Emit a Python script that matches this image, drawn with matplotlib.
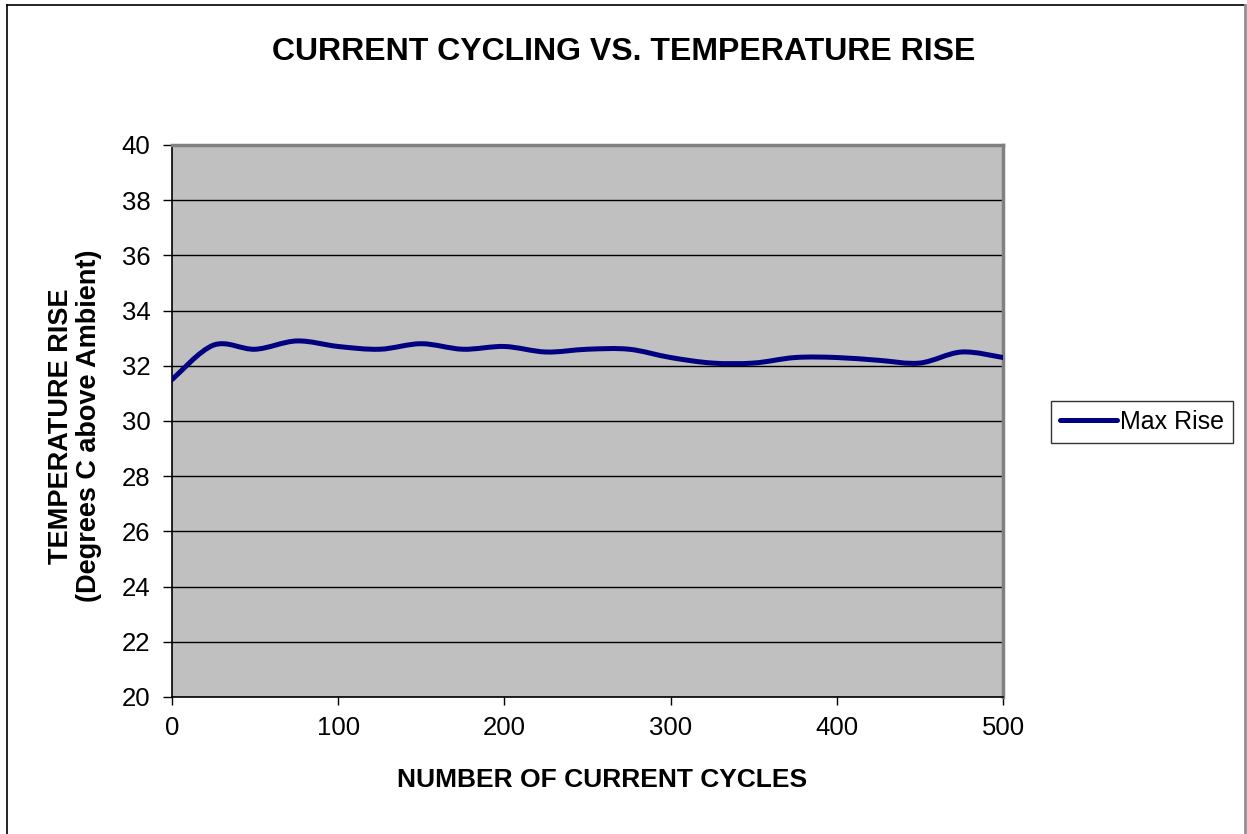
import numpy as np
import matplotlib.pyplot as plt
from matplotlib.path import Path
from matplotlib.patches import PathPatch
from matplotlib.lines import Line2D

# Dữ liệu
cycles = [0, 25, 50, 75, 100, 125, 150, 175, 200, 225, 250,
          275, 300, 325, 350, 375, 400, 425, 450, 475, 500]
max_rise = [31.5, 32.75, 32.6, 32.9, 32.7, 32.6, 32.8, 32.6, 32.7, 32.5, 32.6,
            32.6, 32.3, 32.1, 32.1, 32.3, 32.3, 32.2, 32.1, 32.5, 32.3]
y_ticks = [20, 22, 24, 26, 28, 30, 32, 34, 36, 38, 40]
x_ticks = [0, 100, 200, 300, 400, 500]

plt.rcParams['font.family'] = ['Liberation Sans', 'DejaVu Sans']

W, H = 1247, 834
fig = plt.figure(figsize=(W / 100, H / 100), dpi=100)
ax = fig.add_axes([172 / W, 137 / H, 831 / W, 552 / H])
ax.set_facecolor('#C0C0C0')

# Đường cong trơn kiểu Excel: Bezier bậc 3 (Catmull-Rom) qua các điểm dữ liệu
x = np.array(cycles, dtype=float)
y = np.array(max_rise, dtype=float)
verts = [(x[0], y[0])]
codes = [Path.MOVETO]
n = len(x)
for i in range(n - 1):
    p0 = (x[max(i - 1, 0)], y[max(i - 1, 0)])
    p1 = (x[i], y[i])
    p2 = (x[i + 1], y[i + 1])
    p3 = (x[min(i + 2, n - 1)], y[min(i + 2, n - 1)])
    c1 = (p1[0] + (p2[0] - p0[0]) / 6, p1[1] + (p2[1] - p0[1]) / 6)
    c2 = (p2[0] - (p3[0] - p1[0]) / 6, p2[1] - (p3[1] - p1[1]) / 6)
    verts += [c1, c2, p2]
    codes += [Path.CURVE4] * 3
line_color = '#000080'
ax.add_patch(PathPatch(Path(verts, codes), facecolor='none', edgecolor=line_color,
                       lw=3.6, capstyle='round', joinstyle='round', zorder=3))

ax.set_xlim(0, 500)
ax.set_ylim(20, 40)
ax.set_xticks(x_ticks)
ax.set_yticks(y_ticks)
ax.yaxis.grid(True, color='black', lw=1)
ax.set_axisbelow(True)
ax.tick_params(axis='both', labelsize=18.5, direction='out', width=1, color='black')
ax.tick_params(axis='x', length=6, pad=8)
ax.tick_params(axis='y', length=6.5, pad=9)

for s in ['top', 'right']:
    ax.spines[s].set_color('#808080')
    ax.spines[s].set_linewidth(2.5)
for s in ['left', 'bottom']:
    ax.spines[s].set_color('black')
    ax.spines[s].set_linewidth(1.2)

# Tiêu đề và nhãn trục
fig.text(623.5 / W, 1 - 52 / H, 'CURRENT CYCLING VS. TEMPERATURE RISE', fontsize=23,
         fontweight='bold', ha='center', va='center')
fig.text(602 / W, 1 - 780 / H, 'NUMBER OF CURRENT CYCLES', fontsize=19,
         fontweight='bold', ha='center', va='center')
fig.text(75 / W, 1 - 426 / H, 'TEMPERATURE RISE\n(Degrees C above Ambient)', fontsize=19.5,
         fontweight='bold', ha='center', va='center', rotation=90, linespacing=1.12)

handle = Line2D([], [], color=line_color, lw=3.6, solid_capstyle='round')
leg = fig.legend([handle], ['Max Rise'], loc='center left',
                 bbox_to_anchor=(1051 / W, 1 - 422 / H), fontsize=18,
                 frameon=True, fancybox=False, edgecolor='black',
                 handlelength=2.3, handletextpad=0.1, borderpad=0.35, borderaxespad=0)
leg.get_frame().set_linewidth(1)

# Khung ngoài của hình
fig.add_artist(Line2D([7 / W, 7 / W], [0, 1 - 5 / H], color='black', lw=1.2,
                      transform=fig.transFigure))
fig.add_artist(Line2D([7 / W, 1245 / W], [1 - 5 / H, 1 - 5 / H], color='black',
                      lw=1.2, transform=fig.transFigure))
fig.add_artist(Line2D([1245 / W, 1245 / W], [0, 1 - 5 / H], color='#909090', lw=2,
                      transform=fig.transFigure))

fig.savefig('out.png', dpi=100)
